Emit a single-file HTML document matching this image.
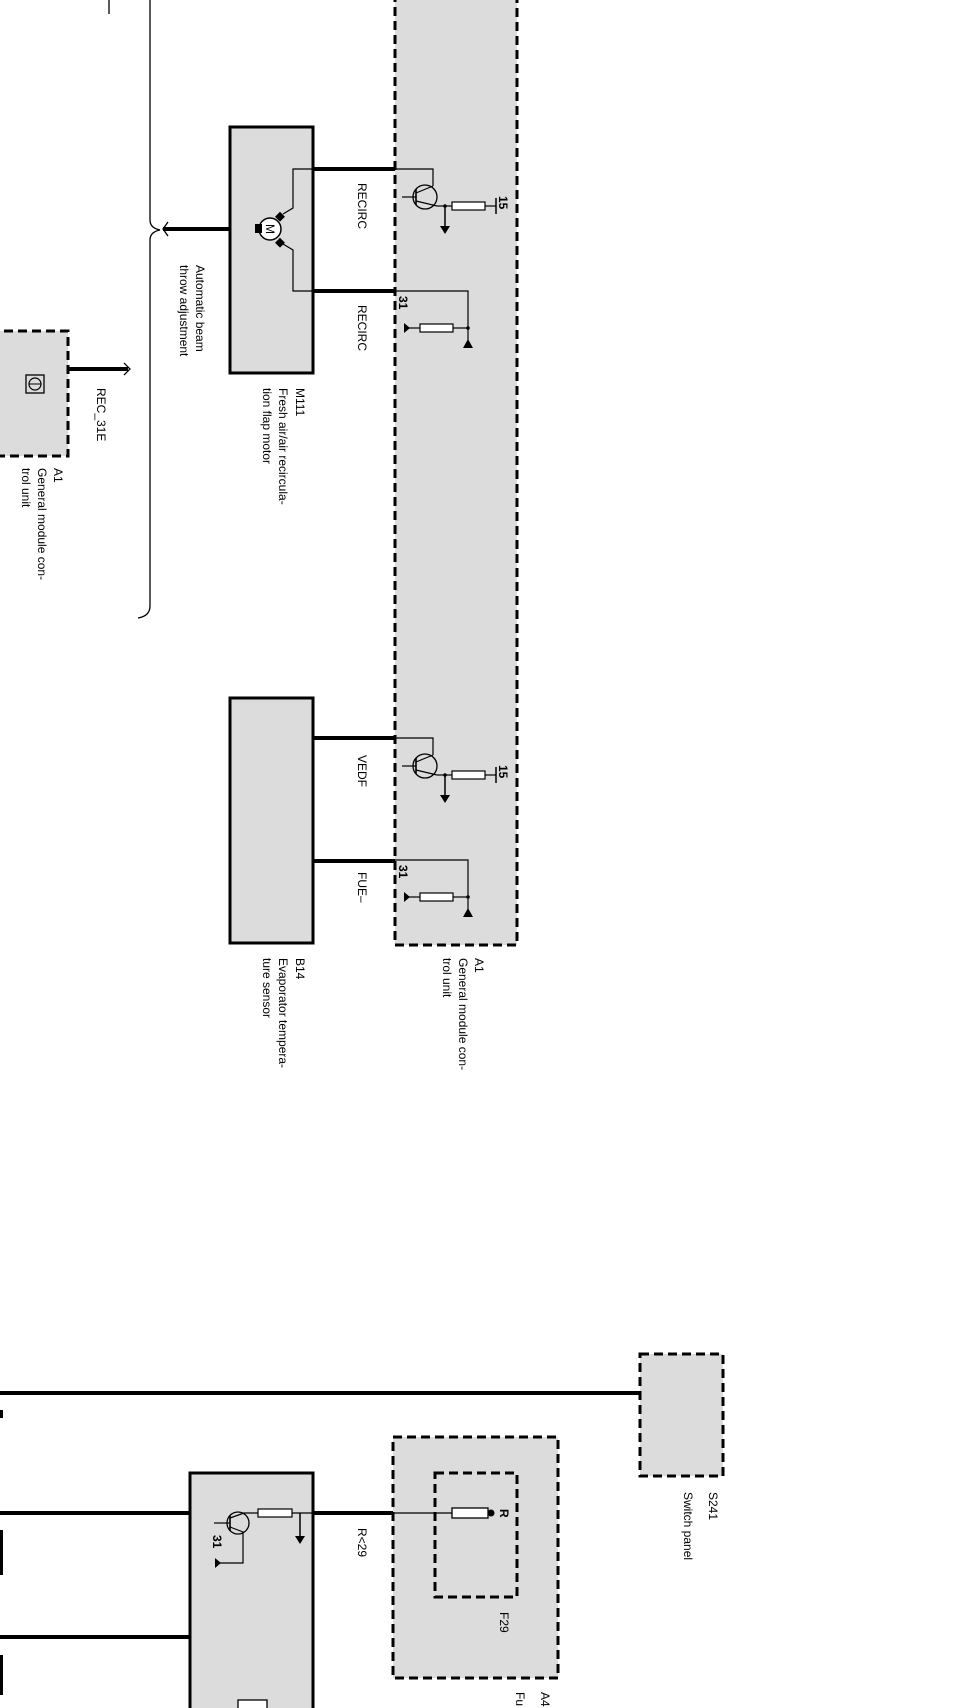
<!DOCTYPE html>
<html><head><meta charset="utf-8"><style>
html,body{margin:0;padding:0;background:#fff;}
svg{display:block;}
text{font-family:"Liberation Sans",Arial,sans-serif;font-size:12px;fill:#000;}
</style></head><body>
<svg width="959" height="1708" viewBox="0 0 959 1708" xmlns="http://www.w3.org/2000/svg">
<defs>
<g id="drv">
  <polyline points="395,169 433,169 433,186" fill="none" stroke="#000" stroke-width="1.2"/>
  <circle cx="425" cy="197" r="12" fill="none" stroke="#000" stroke-width="1.3"/>
  <line x1="402" y1="197" x2="416" y2="197" stroke="#000" stroke-width="1.2"/>
  <line x1="416" y1="189" x2="416" y2="205" stroke="#000" stroke-width="1.6"/>
  <line x1="416" y1="193" x2="433" y2="186" stroke="#000" stroke-width="1.2"/>
  <line x1="416" y1="201" x2="437" y2="206" stroke="#000" stroke-width="1.2"/>
  <line x1="437" y1="206" x2="452" y2="206" stroke="#000" stroke-width="1.2"/>
  <rect x="452" y="202" width="33" height="8" fill="#fff" stroke="#000" stroke-width="1.2"/>
  <line x1="485" y1="206" x2="496" y2="206" stroke="#000" stroke-width="1.2"/>
  <line x1="496" y1="198" x2="496" y2="214" stroke="#000" stroke-width="1.5"/>
  <circle cx="445" cy="206" r="1.8"/>
  <line x1="445" y1="206" x2="445" y2="226" stroke="#000" stroke-width="1.5"/>
  <polygon points="440,226 450,226 445,234"/>
  <text transform="translate(499,196) rotate(90)" font-weight="bold">15</text>
  <polyline points="395,291 468,291 468,340" fill="none" stroke="#000" stroke-width="1.2"/>
  <polygon points="463,348 473,348 468,339"/>
  <circle cx="468" cy="328" r="1.8"/>
  <line x1="468" y1="328" x2="453" y2="328" stroke="#000" stroke-width="1.2"/>
  <rect x="420" y="324" width="33" height="8" fill="#fff" stroke="#000" stroke-width="1.2"/>
  <line x1="420" y1="328" x2="405" y2="328" stroke="#000" stroke-width="1.2"/>
  <polygon points="404,323 404,333 410,328"/>
  <text transform="translate(399,296) rotate(90)" font-weight="bold">31</text>
</g>
</defs>

<line x1="109" y1="0" x2="109" y2="14" stroke="#000" stroke-width="1.3"/>

<path d="M150,0 L150,220 Q150,228 160,230 Q150,232 150,240 L150,606 Q150,616 138,618" fill="none" stroke="#000" stroke-width="1.3"/>

<rect x="395" y="-10" width="122" height="955" fill="#dcdcdc" stroke="#000" stroke-width="3" stroke-dasharray="9 5"/>

<rect x="230" y="127" width="83" height="246" fill="#dcdcdc" stroke="#000" stroke-width="3"/>
<line x1="163" y1="229" x2="230" y2="229" stroke="#000" stroke-width="4"/>
<path d="M168,222 L163,229 L168,236" fill="none" stroke="#000" stroke-width="1.3"/>
<circle cx="270" cy="229" r="11" fill="#fff" stroke="#000" stroke-width="1.5"/>
<text transform="translate(266,224) rotate(90)" font-size="8">M</text>
<rect x="255" y="224" width="7" height="9"/>
<rect x="277" y="213" width="7" height="7" transform="rotate(45 280 216)"/>
<rect x="277" y="239" width="7" height="7" transform="rotate(45 280 242)"/>
<polyline points="283,214 293,208 293,169 313,169" fill="none" stroke="#000" stroke-width="1.2"/>
<polyline points="283,244 293,250 293,291 313,291" fill="none" stroke="#000" stroke-width="1.2"/>
<line x1="313" y1="169" x2="395" y2="169" stroke="#000" stroke-width="4"/>
<line x1="313" y1="291" x2="395" y2="291" stroke="#000" stroke-width="4"/>
<use href="#drv"/>
<text transform="translate(358,183) rotate(90)">RECIRC</text>
<text transform="translate(358,305) rotate(90)">RECIRC</text>
<text transform="translate(296,388) rotate(90)">M111</text>
<text transform="translate(279,388) rotate(90)">Fresh air/air recircula-</text>
<text transform="translate(263,388) rotate(90)">tion flap motor</text>
<text transform="translate(196,265) rotate(90)">Automatic beam</text>
<text transform="translate(180,265) rotate(90)">throw adjustment</text>

<rect x="-10" y="331" width="78" height="125" fill="#dcdcdc" stroke="#000" stroke-width="3" stroke-dasharray="9 5"/>
<rect x="26" y="375" width="18" height="18" fill="none" stroke="#000" stroke-width="1.3"/>
<circle cx="35" cy="384" r="6" fill="none" stroke="#000" stroke-width="1.2"/>
<line x1="29" y1="384" x2="41" y2="384" stroke="#000" stroke-width="1"/>
<line x1="68" y1="369" x2="128" y2="369" stroke="#000" stroke-width="4"/>
<path d="M124,363 L130,369 L124,375" fill="none" stroke="#000" stroke-width="1.3"/>
<text transform="translate(97,388) rotate(90)">REC_31E</text>
<text transform="translate(54,468) rotate(90)">A1</text>
<text transform="translate(38,468) rotate(90)">General module con-</text>
<text transform="translate(22,468) rotate(90)">trol unit</text>

<rect x="230" y="698" width="83" height="245" fill="#dcdcdc" stroke="#000" stroke-width="3"/>
<line x1="313" y1="738" x2="395" y2="738" stroke="#000" stroke-width="4"/>
<line x1="313" y1="861" x2="395" y2="861" stroke="#000" stroke-width="4"/>
<use href="#drv" transform="translate(0,569)"/>
<text transform="translate(358,755) rotate(90)">VEDF</text>
<text transform="translate(358,872) rotate(90)">FUE–</text>
<text transform="translate(475,958) rotate(90)">A1</text>
<text transform="translate(459,958) rotate(90)">General module con-</text>
<text transform="translate(443,958) rotate(90)">trol unit</text>
<text transform="translate(296,958) rotate(90)">B14</text>
<text transform="translate(279,958) rotate(90)">Evaporator tempera-</text>
<text transform="translate(263,958) rotate(90)">ture sensor</text>

<line x1="0" y1="1393" x2="640" y2="1393" stroke="#000" stroke-width="4"/>
<rect x="640" y="1354" width="83" height="122" fill="#dcdcdc" stroke="#000" stroke-width="3" stroke-dasharray="9 5"/>
<text transform="translate(709,1492) rotate(90)">S241</text>
<text transform="translate(684,1492) rotate(90)">Switch panel</text>
<rect x="0" y="1410" width="3" height="8"/>
<rect x="0" y="1530" width="3" height="45"/>
<rect x="0" y="1655" width="3" height="40"/>

<rect x="190" y="1473" width="123" height="250" fill="#dcdcdc" stroke="#000" stroke-width="3"/>
<line x1="0" y1="1513" x2="190" y2="1513" stroke="#000" stroke-width="4"/>
<line x1="0" y1="1637" x2="190" y2="1637" stroke="#000" stroke-width="4"/>
<circle cx="238" cy="1523" r="11" fill="none" stroke="#000" stroke-width="1.3"/>
<line x1="214" y1="1523" x2="230" y2="1523" stroke="#000" stroke-width="1.2"/>
<line x1="230" y1="1515" x2="230" y2="1531" stroke="#000" stroke-width="1.6"/>
<polyline points="230,1518 244,1513 258,1513" fill="none" stroke="#000" stroke-width="1.2"/>
<polyline points="230,1527 243,1532 243,1563 217,1563" fill="none" stroke="#000" stroke-width="1.2"/>
<polygon points="215,1558 215,1568 221,1563"/>
<rect x="258" y="1509" width="34" height="8" fill="#fff" stroke="#000" stroke-width="1.2"/>
<line x1="292" y1="1513" x2="313" y2="1513" stroke="#000" stroke-width="1.2"/>
<line x1="300" y1="1513" x2="300" y2="1536" stroke="#000" stroke-width="1.5"/>
<polygon points="295,1536 305,1536 300,1544"/>
<text transform="translate(213,1535) rotate(90)" font-weight="bold">31</text>
<rect x="238" y="1700" width="29" height="20" fill="#fff" stroke="#000" stroke-width="1.3"/>

<line x1="313" y1="1513" x2="393" y2="1513" stroke="#000" stroke-width="4"/>
<text transform="translate(358,1528) rotate(90)">R&lt;29</text>
<rect x="393" y="1437" width="165" height="241" fill="#dcdcdc" stroke="#000" stroke-width="3" stroke-dasharray="9 5"/>
<rect x="435" y="1473" width="82" height="124" fill="#dcdcdc" stroke="#000" stroke-width="3" stroke-dasharray="9 5"/>
<line x1="393" y1="1513" x2="452" y2="1513" stroke="#000" stroke-width="1.2"/>
<rect x="452" y="1508" width="36" height="10" fill="#fff" stroke="#000" stroke-width="1.3"/>
<circle cx="491" cy="1513" r="3.5"/>
<text transform="translate(500,1509) rotate(90)" font-weight="bold">R</text>
<text transform="translate(500,1612) rotate(90)">F29</text>
<text transform="translate(541,1692) rotate(90)">A4</text>
<text transform="translate(516,1692) rotate(90)">Fu</text>
</svg>
</body></html>
